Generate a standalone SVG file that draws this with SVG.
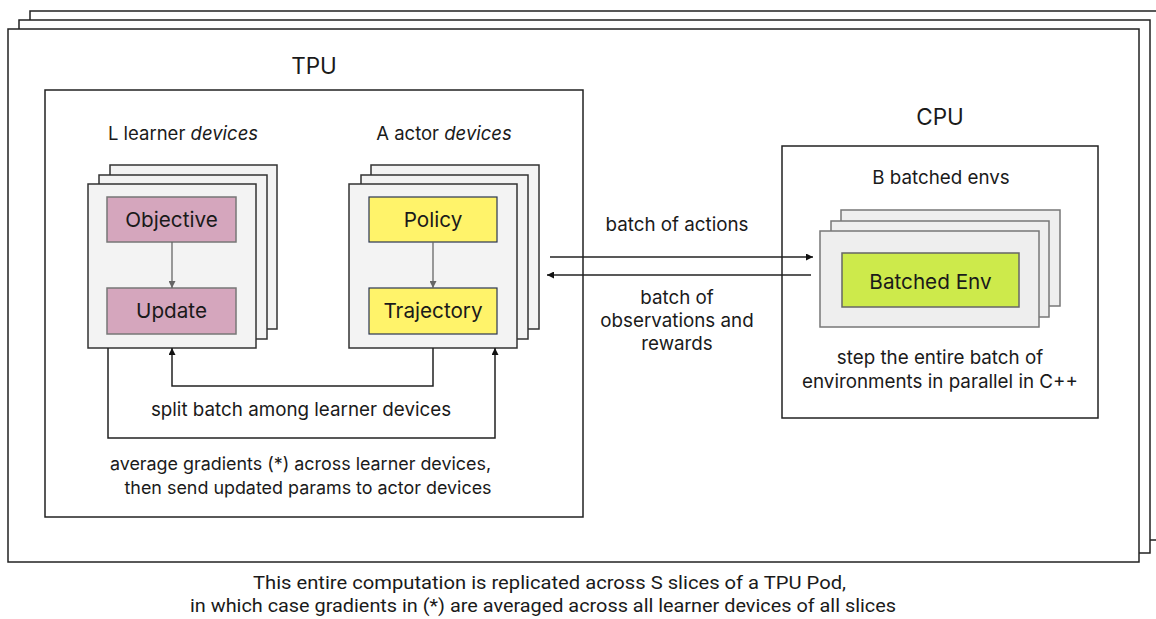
<svg xmlns="http://www.w3.org/2000/svg" width="1156" height="619" viewBox="0 0 1156 619">
<style>
text{font-family:Inter,"Noto Sans","Liberation Sans",sans-serif;fill:#1a1a1a;text-anchor:middle}
.hd{font-size:18.5px}
.avg{font-size:17.9px}
.lbl{font-size:18.8px}
.box{font-size:20.7px}
.big{font-size:22.5px}
.frame{fill:#fff;stroke:#222;stroke-width:1.5}
.dev{fill:#f3f3f3;stroke:#333;stroke-width:1.5}
.env{fill:#eeeeee;stroke:#777;stroke-width:1.5}
.pink{fill:#d5a6bd;stroke:#777;stroke-width:1.5}
.yel{fill:#fff36a;stroke:#2a3550;stroke-width:1.2}
.grn{fill:#cdea4b;stroke:#666;stroke-width:1.5}
.conn{fill:none;stroke:#222;stroke-width:1.5}
.gconn{fill:none;stroke:#666;stroke-width:1.3}
.foot{font-family:Roboto,"Liberation Sans",sans-serif;font-size:18.5px}
</style>
<defs>
<marker id="ah" viewBox="0 0 10 10" refX="10" refY="5" markerWidth="7" markerHeight="7" markerUnits="userSpaceOnUse" orient="auto"><path d="M0,0 L10,5 L0,10 z" fill="#111"/></marker>
<marker id="gah" viewBox="0 0 10 10" refX="10" refY="5" markerWidth="7" markerHeight="7" markerUnits="userSpaceOnUse" orient="auto"><path d="M0,0 L10,5 L0,10 z" fill="#666"/></marker>
</defs>
<rect width="1156" height="619" fill="#fff"/>

<g id="pod-stack">
<rect class="frame" x="30" y="11" width="1140" height="529"/>
<rect class="frame" x="19" y="20" width="1131" height="533"/>
<rect class="frame" x="8" y="29" width="1131" height="533"/>
</g>

<g id="tpu">
<text class="big" x="314" y="74">TPU</text>
<rect class="frame" x="45" y="90" width="538" height="427"/>
<text class="hd" x="183" y="140">L learner <tspan font-style="italic">devices</tspan></text>
<text class="hd" x="444" y="140">A actor <tspan font-style="italic">devices</tspan></text>
</g>

<g id="learner-devices">
<rect class="dev" x="110" y="165" width="167" height="164"/>
<rect class="dev" x="99" y="175" width="168" height="164"/>
<rect class="dev" x="88" y="184" width="168" height="164"/>
</g>
<g id="objective">
<rect class="pink" x="107" y="197" width="129" height="45"/>
<text class="box" x="171.5" y="227">Objective</text>
</g>
<g id="update">
<rect class="pink" x="107" y="288" width="129" height="46"/>
<text class="box" x="171.5" y="318">Update</text>
</g>

<g id="actor-devices">
<rect class="dev" x="371" y="165" width="168" height="164"/>
<rect class="dev" x="361" y="175" width="167" height="164"/>
<rect class="dev" x="349" y="184" width="168" height="164"/>
</g>
<g id="policy">
<rect class="yel" x="369" y="197" width="128" height="45"/>
<text class="box" x="433" y="227">Policy</text>
</g>
<g id="trajectory">
<rect class="yel" x="369" y="288" width="128" height="46"/>
<text class="box" x="433" y="318">Trajectory</text>
</g>

<g id="cpu">
<text class="big" x="940" y="125">CPU</text>
<rect class="frame" x="782" y="146" width="316" height="272"/>
<text class="lbl" x="941" y="184">B batched envs</text>
<text class="lbl" x="940" y="364">step the entire batch of</text>
<text class="lbl" x="940" y="388">environments in parallel in C++</text>
</g>
<g id="env-stack">
<rect class="env" x="841" y="210" width="219" height="96"/>
<rect class="env" x="831" y="221" width="218" height="96"/>
<rect class="env" x="820" y="231" width="219" height="96"/>
</g>
<g id="batched-env">
<rect class="grn" x="842" y="253" width="177" height="54"/>
<text class="box" x="930.5" y="289">Batched Env</text>
</g>

<g id="connectors">
<line class="gconn" x1="172" y1="242" x2="172" y2="288" marker-end="url(#gah)"/>
<line class="gconn" x1="433" y1="242" x2="433" y2="288" marker-end="url(#gah)"/>
<polyline class="conn" points="433,348 433,386 172,386 172,348" marker-end="url(#ah)"/>
<polyline class="conn" points="108,348 108,438 495,438 495,348" marker-end="url(#ah)"/>
<line class="conn" x1="550" y1="257" x2="813" y2="257" marker-end="url(#ah)"/>
<line class="conn" x1="811" y1="275" x2="547" y2="275" marker-end="url(#ah)"/>
</g>

<g id="labels">
<text class="lbl" x="301" y="416">split batch among learner devices</text>
<text class="avg" x="300.5" y="470">average gradients (*) across learner devices,</text>
<text class="avg" x="308" y="494">then send updated params to actor devices</text>
<text class="lbl" x="677" y="231">batch of actions</text>
<text class="lbl" x="677" y="304">batch of</text>
<text class="lbl" x="677" y="327">observations and</text>
<text class="lbl" x="677" y="350">rewards</text>
<text class="foot" x="549.5" y="589" textLength="593" lengthAdjust="spacingAndGlyphs">This entire computation is replicated across S slices of a TPU Pod,</text>
<text class="foot" x="543" y="612" textLength="706" lengthAdjust="spacingAndGlyphs">in which case gradients in (*) are averaged across all learner devices of all slices</text>
</g>
</svg>
